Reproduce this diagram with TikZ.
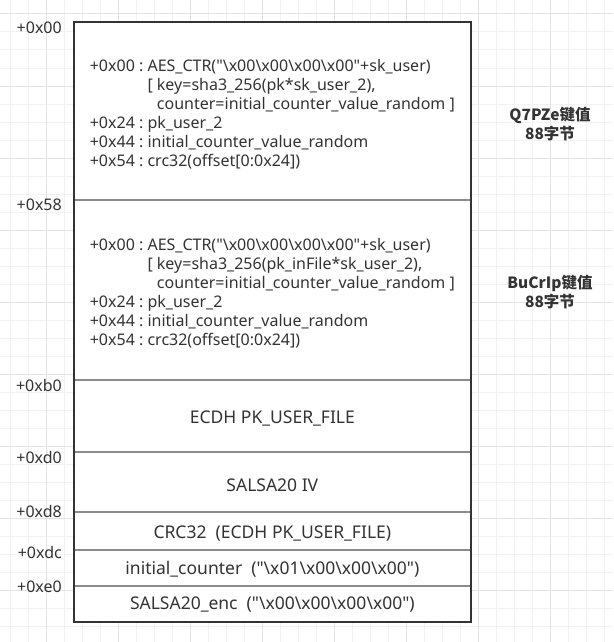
\documentclass[tikz,border=0pt]{standalone}
\usepackage{fontspec}
\setmainfont{Noto Sans}[Ligatures=TeXOff]
\newfontfamily\cjk{Noto Sans CJK SC}[Ligatures=TeXOff]
\usepackage{xcolor}
\usepackage{tikz}
\usetikzlibrary{positioning}
\definecolor{mydark}{RGB}{51,51,51}
\definecolor{mydivider}{RGB}{140,140,140}
\definecolor{mygridminor}{RGB}{242,242,242}
\definecolor{mygridmajor}{RGB}{226,226,226}
\newcommand{\xnul}{\textbackslash x00}
\newcommand{\xone}{\textbackslash x01}
\newcommand{\down}[2][3pt]{\raisebox{-#1}[\height][\depth]{#2}}

\begin{document}
\begin{tikzpicture}[x=1pt, y=-1pt,
      cell/.style={draw=mydivider, line width=1.5pt, fill=white, minimum width=396.7pt,
                   minimum height=#1, inner sep=0pt, outer sep=0pt, text=mydark,
                   font=\fontsize{16}{19}\selectfont},
      field/.style={cell=#1, font=\fontsize{17.5}{19}\selectfont},
      offs/.style={text=mydark, inner sep=0pt, yshift=-2pt, font=\fontsize{16}{19}\selectfont},
      tag/.style={text=mydark, align=center, font=\cjk\bfseries\fontsize{15.5}{19}\selectfont},
      frame/.style={draw=mydark, line width=2pt},
      minorline/.style={draw=mygridminor, line width=1pt},
      majorline/.style={draw=mygridmajor, line width=1pt}
  ]
    \fill[white] (0,0) rectangle (613,642);
    \useasboundingbox (0,0) rectangle (613,642);

    % background grid
    \foreach \gx in {0,...,33}
      \draw[minorline] ({10.7+18*\gx},0) -- ({10.7+18*\gx},642);
    \foreach \gy in {0,...,34}
      \draw[minorline] (0,{14+18*\gy}) -- (613,{14+18*\gy});
    \foreach \gx in {0,...,7}
      \draw[majorline] ({46.7+72*\gx},0) -- ({46.7+72*\gx},642);
    \foreach \gy in {0,...,8}
      \draw[majorline] (0,{14+72*\gy}) -- (613,{14+72*\gy});

    % key blocks
    \node[cell=178pt] (keya) at (272.35,111)
      {\down[4pt]{\begin{tabular}{@{}l@{\ }l@{}}
        +0x00 : & AES\_CTR("\xnul\xnul\xnul\xnul"+sk\_user)\\
                & [ key=sha3\_256(pk*sk\_user\_2),\\
                & \phantom{[}\ counter=initial\_counter\_value\_random ]\\
        +0x24 : & pk\_user\_2\\
        +0x44 : & initial\_counter\_value\_random\\
        +0x54 : & crc32(offset[0:0x24])
       \end{tabular}}};

    \node[cell=180pt, below=0pt of keya] (keyb)
      {\down[4pt]{\begin{tabular}{@{}l@{\ }l@{}}
        +0x00 : & AES\_CTR("\xnul\xnul\xnul\xnul"+sk\_user)\\
                & [ key=sha3\_256(pk\_inFile*sk\_user\_2),\\
                & \phantom{[}\ counter=initial\_counter\_value\_random ]\\
        +0x24 : & pk\_user\_2\\
        +0x44 : & initial\_counter\_value\_random\\
        +0x54 : & crc32(offset[0:0x24])
       \end{tabular}}};

    % trailer fields
    \node[field=72pt, below=0pt of keyb] (pkfile) {\down{ECDH PK\_USER\_FILE}};
    \node[field=60pt, below=0pt of pkfile] (iv) {\down{SALSA20 IV}};
    \node[field=38pt, below=0pt of iv] (crc) {\down{CRC32\ \ (ECDH PK\_USER\_FILE)}};
    \node[field=36pt, below=0pt of crc] (ctr)
      {\down[1pt]{initial\_counter\ \ ("\xone\xnul\xnul\xnul")}};
    \node[field=36pt, below=0pt of ctr] (enc)
      {\down[1pt]{SALSA20\_enc\ \ ("\xnul\xnul\xnul\xnul")}};

    \draw[frame] (keya.north west) rectangle (enc.south east);

    % offsets
    \node[offs, yshift=-3.5pt, left=12pt of keya.north west] (offa) {+0x00};
    \node[offs, yshift=-3pt, left=12pt of keyb.north west] (offb) {+0x58};
    \node[offs, yshift=-3pt, left=12pt of pkfile.north west] (offc) {+0xb0};
    \node[offs, yshift=-3.5pt, left=12pt of iv.north west] (offd) {+0xd0};
    \node[offs, yshift=3pt, left=12pt of crc.north west] (offe) {+0xd8};
    \node[offs, left=12pt of ctr.north west] (offf) {+0xdc};
    \node[offs, yshift=1pt, left=12pt of enc.north west] (offg) {+0xe0};

    % block sizes
    \node[tag] (taga) at (550,124) {Q7PZe键值\\88字节};
    \node[tag] (tagb) at (550,292) {BuCrIp键值\\88字节};
  \end{tikzpicture}
\end{document}
